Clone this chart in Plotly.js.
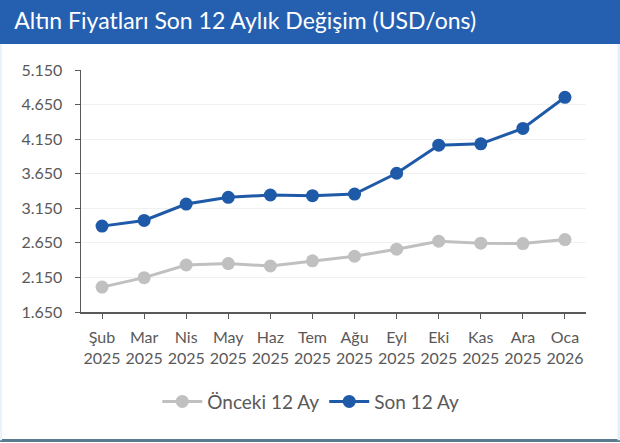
<!DOCTYPE html>
<html>
<head>
<meta charset="utf-8">
<script src="https://cdn.plot.ly/plotly-3.0.1.min.js"></script>
<style>
html,body{margin:0;padding:0;background:#fff;}
#chart{width:620px;height:443px;}
</style>
</head>
<body>
<div id="chart"></div>
<script>
const months = ["Şub<br>2025","Mar<br>2025","Nis<br>2025","May<br>2025","Haz<br>2025","Tem<br>2025","Ağu<br>2025","Eyl<br>2025","Eki<br>2025","Kas<br>2025","Ara<br>2025","Oca<br>2026"];
const prev12 = [2010, 2147, 2330, 2350, 2315, 2390, 2456, 2558, 2674, 2645, 2640, 2698];
const last12 = [2892, 2974, 3211, 3308, 3342, 3332, 3356, 3657, 4063, 4082, 4305, 4755];
const yTicks = [1650, 2150, 2650, 3150, 3650, 4150, 4650, 5150];
const yTickText = ["1.650","2.150","2.650","3.150","3.650","4.150","4.650","5.150"];

const font = "Lato, 'Open Sans', sans-serif";
const traces = [
  {x: months, y: prev12, name: "Önceki 12 Ay", type: "scatter", mode: "lines+markers",
   line: {color: "#c0c0c0", width: 3}, marker: {color: "#c0c0c0", size: 13}},
  {x: months, y: last12, name: "Son 12 Ay", type: "scatter", mode: "lines+markers",
   line: {color: "#1f5aa8", width: 3}, marker: {color: "#1f5aa8", size: 13}}
];
const layout = {
  width: 620, height: 443,
  margin: {l: 81, r: 34, t: 70, b: 131},
  paper_bgcolor: "#ffffff", plot_bgcolor: "#ffffff",
  font: {family: font, color: "#595959", size: 16},
  title: {text: "Altın Fiyatları Son 12 Aylık Değişim (USD/ons)", x: 0.023, xanchor: "left",
          y: 0.953, yanchor: "middle", font: {family: font, color: "#ffffff", size: 23}},
  showlegend: true,
  legend: {orientation: "h", x: 0.455, xanchor: "center", y: -0.37, yanchor: "middle",
           font: {family: font, size: 19, color: "#595959"}, traceorder: "normal", itemwidth: 40},
  xaxis: {type: "category", range: [-0.5, 11.5], showline: true, linecolor: "#595959", linewidth: 1.5,
          ticks: "outside", ticklen: 5, tickcolor: "#595959", showgrid: false, zeroline: false,
          ticklabelstandoff: 5,
          tickfont: {size: 16, color: "#595959"}, fixedrange: true},
  yaxis: {range: [1650, 5150], tickvals: yTicks, ticktext: yTickText, showline: true,
          linecolor: "#595959", linewidth: 1.5, ticks: "outside", ticklen: 5, tickcolor: "#595959",
          showgrid: true, gridcolor: "#f0f0f0", gridwidth: 1, zeroline: false,
          ticklabelstandoff: 9,
          tickfont: {size: 16, color: "#595959"}, fixedrange: true},
  shapes: [
    {type: "rect", xref: "paper", yref: "paper", x0: -0.2, x1: 1.2, y0: 1.1077, y1: 1.35,
     fillcolor: "#2560b0", line: {width: 0}, layer: "below"},
    {type: "line", xref: "paper", yref: "paper", x0: -0.2, x1: 1.2, y0: -0.531, y1: -0.531,
     line: {color: "#5a7a90", width: 3}},
    {type: "line", xref: "paper", yref: "paper", x0: 1.0653, x1: 1.0653, y0: -0.53, y1: 1.1077,
     line: {color: "#e3f0fa", width: 3}},
    {type: "line", xref: "paper", yref: "paper", x0: -0.1584, x1: -0.1584, y0: -0.53, y1: 1.1077,
     line: {color: "#eaf4fb", width: 2}}
  ]
};
Plotly.newPlot("chart", traces, layout, {displayModeBar: false, staticPlot: true});
</script>
</body>
</html>
